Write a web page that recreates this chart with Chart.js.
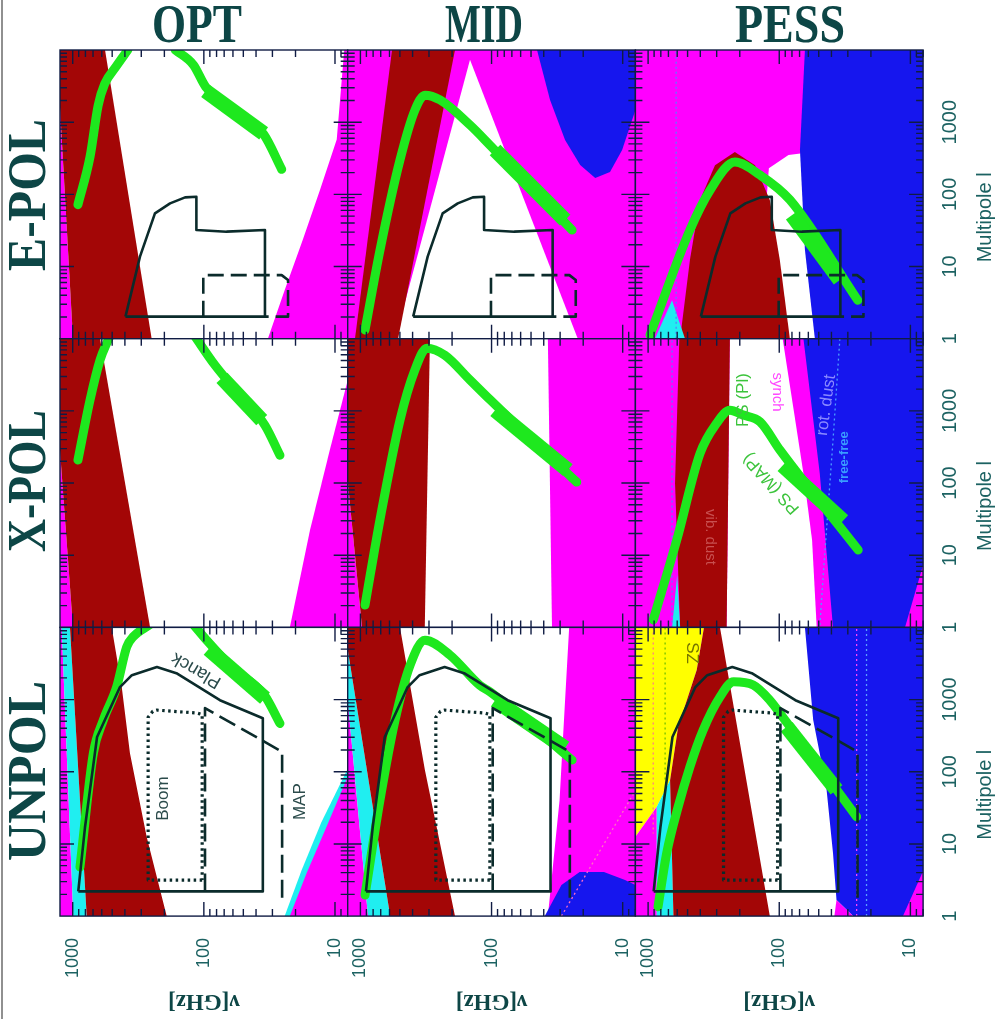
<!DOCTYPE html>
<html><head><meta charset="utf-8">
<script src="https://cdn.jsdelivr.net/npm/chart.js@4.4.1/dist/chart.umd.min.js"></script>
<style>
html,body{margin:0;padding:0;background:#fff;}
#wrap{position:relative;width:997px;height:1019px;overflow:hidden;background:#fff;}
#wrap canvas{position:absolute;left:0;top:0;}
#frame{position:absolute;left:1px;top:0;width:2px;height:1019px;background:#909090;}
</style></head><body><div id="wrap"><div id="frame"></div></div>
<script>
// ---------- axes ----------
const NU_MIN = 8, NU_MAX = 1250, ELL_MIN = 1, ELL_MAX = 10000;
const columnTitles = ['OPT', 'MID', 'PESS'];
const rowTitles = ['E-POL', 'X-POL', 'UNPOL'];
const nuTickLabels = [1000, 100, 10];
const ellTickLabels = [1, 10, 100, 1000];

// ---------- experiments  [nu GHz, ell] ----------
const planckE = [[396,2.02],[307,13.7],[236,54.6],[181,75],[139,90.9],[114,92.7],[114,32],[67.2,30.4],[34.2,32],[34.2,2.02],[396,2.02]];
const mapE = [[101,2.02],[101,7.6],[25.5,7.6],[22.8,6.5],[22.8,2.02],[34.2,2.02]];
const planckU = [[907,2.2],[806,17],[652,303],[436,1490],[354,2180],[228,2830],[162,2320],[75.4,980],[35.5,550],[35.5,2.2],[907,2.2]];
const mapU = [[98,2.2],[98,763],[25.3,189],[25.3,1.8]];
const boomU = [[103,3.16],[266,3.16],[266,570],[245,690],[228,715],[113,650],[103,620],[103,3.16]];

// ---------- OPT E-POL ----------
const optE_left = [[1250,1630],[995,1],[1250,1]];
const optE_dust = [[1250,10000],[567,10000],[250,1],[995,1],[1250,1630]];
const optE_synch = [[8.5,10000],[9.7,575],[13,116],[17.6,23.5],[24.1,4.8],[32.5,1],[8,1],[8,10000]];
const optE_psA = [[912,72],[738,330],[640,1700],[570,3400],[470,5800],[380,10000]];
const optE_psB = [[165,10000],[120,6200],[97,3100],[60,1500],[35,680],[25.5,222]];
const optE_psMap = [[97,2700],[35,700]];
// ---------- MID E-POL ----------
const midE_white = [[543,1],[22,1],[146,7300]];
const midE_dust = [[574,10000],[190,10000],[516,1],[1100,1]];
const midE_blue = [[45,10000],[35.8,2030],[27.5,565],[21.1,255],[16.2,168],[12.5,204],[10.1,411],[8,1470],[7,10000]];
const midE_ps = [[922,1.32],[709,16.9],[499,300],[384,1470],[322,2370],[247,2030],[146,912],[103,482],[24.3,32]];
const midE_psMap = [[94,411],[27.5,44]];
// ---------- PESS E-POL ----------
const pessE_white = [[150,1],[120,230],[85,350],[60,380],[50,1]];
const pessE_dust = [[570,1],[480,12.3],[402,83.6],[309,254],[218,385],[153,254],[118,83.6],[99,12.3],[83,1]];
const pessE_blue = [[63.7,10000],[69.5,410],[63.7,16.9],[53.5,1],[7,1],[7,10000]];
const pessE_cyan = [[887,1],[657,3.4],[523,1]];
const pessE_dot = [[611,1],[611,10000]];
const pessE_ps = [[967,1.13],[480,32],[337,114],[218,280],[140,185],[83,84],[25.2,3.4]];
const pessE_psMap = [[80,51.5],[34.5,6.5]];
// ---------- OPT X-POL ----------
const optX_left = [[1250,282],[995,1],[1250,1]];
const optX_dust = [[1250,10000],[619,10000],[257,1],[995,1],[1250,282]];
const optX_synch = [[8,2650],[10.95,287],[15.5,22.3],[22.1,1],[7,1],[7,2650]];
const optX_psA = [[912,208],[738,1410],[619,5050],[537,9580],[520,11000]];
const optX_psB = [[118,11000],[82.3,4300],[53.1,1650],[34.2,632],[26.3,243]];
const optX_psMap = [[72.8,2860],[36.2,745]];
// ---------- MID X-POL ----------
const midX_left = [[1250,109],[972,1],[1250,1]];
const midX_dust = [[1250,10000],[295,10000],[323,1],[972,1],[1250,109]];
const midX_synch = [[37.2,10000],[34.6,1],[7,1],[7,10000]];
const midX_ps = [[922,2.04],[710,30.7],[499,745],[384,3700],[311,7400],[227,5900],[146,2680],[102,1410],[22.4,103]];
const midX_psMap = [[94,1020],[26.2,151]];
// ---------- PESS X-POL ----------
const pessX_dust = [[578,10000],[238,10000],[252,1],[570,1],[623,99]];
const pessX_white = [[238,10000],[94.2,10000],[78.3,1140],[65.4,136],[56.2,16.2],[51.8,1],[252,1]];
const pessX_blue = [[65.4,10000],[49.1,136],[38.9,1],[7,1],[7,10000]];
const pessX_corner = [[8,7.3],[11,1],[7,1]];
const pessX_cyan = [[657,1],[600,5.3],[570,1]];
const pessX_dotA = [[657,1],[657,10000]];
const pessX_dotB = [[34.5,10000],[38.9,393],[46.1,5.6],[49.1,1]];
const pessX_ps = [[914,1.27],[605,16.2],[402,257],[301,670],[238,1020],[188,875],[140,705],[98.8,287],[25,11.8]];
const pessX_psMap = [[94.2,175],[32.6,30]];
// ---------- OPT UNPOL ----------
const optU_left = [[1250,10000],[1213,10000],[990,1],[1250,1]];
const optU_cyan = [[1213,10000],[1049,10000],[782,1],[990,1]];
const optU_dust = [[1049,10000],[504,10000],[423,1500],[366,180],[273,12.6],[192,1],[782,1]];
const optU_cyan2 = [[8,110],[12.7,20],[18,4.3],[24.2,1],[7,1]];
const optU_synch = [[8,85],[11.6,17.3],[16.5,3.9],[22.1,1],[7,1]];
const optU_psA = [[880,4.8],[696,180],[584,520],[462,1500],[387,5400],[346,7400],[257,11000]];
const optU_psB = [[118,10500],[95.3,6640],[60,2700],[34.5,1150],[26.3,467]];
const optU_psMap = [[92,5000],[34.2,1050]];
// ---------- MID UNPOL ----------
const midU_left = [[1250,980],[875,1],[1250,1]];
const midU_cyan = [[1250,5000],[593,1],[875,1],[1250,980]];
const midU_dust = [[1250,10000],[499,10000],[322,105],[190,1],[593,1],[1250,5000]];
const midU_synch = [[25.6,10000],[27.5,980],[30.3,40.4],[37.2,1],[7,1],[7,10000]];
const midU_blue = [[39.3,1],[29.3,2.7],[21.3,4.08],[13.9,4.08],[9.6,3.16],[8,2.7],[7,1]];
const midU_dot = [[29.3,1],[8,55]];
const midU_ps = [[922,1.96],[709,40.5],[544,520],[418,2990],[322,6650],[208,4140],[123,1580],[102,1270],[24.3,145]];
const midU_psMap = [[94,980],[27.5,213]];
// ---------- PESS UNPOL ----------
const pessU_yellow = [[1250,10000],[375,10000],[426,2560],[590,420],[680,76.5],[859,32.7],[1250,12.6]];
const pessU_magL = [[1250,12.6],[859,32.7],[859,1],[1250,1]];
const pessU_cyan = [[680,76.5],[859,32.7],[859,1],[641,1]];
const pessU_dust = [[375,10000],[283,10000],[118,1],[641,1],[680,76.5],[590,420],[426,2560]];
const pessU_blue = [[63.7,10000],[55.1,520],[43.8,62],[38.9,7.4],[36.6,1.67],[27.3,1],[7,1],[7,10000]];
const pessU_magB = [[36.6,1.67],[27.3,1],[38,1]];
const pessU_corner = [[8,4.2],[11.4,1],[7,1]];
const pessU_dotPink = [[914,10000],[914,14]];
const pessU_dotYel = [[742,10000],[742,76]];
const pessU_dotMag = [[25.7,1],[25.7,10000]];
const pessU_dotBlu = [[21.6,1],[21.6,10000]];
const pessU_ps = [[840,1.35],[722,7.4],[590,32.7],[480,117],[381,376],[283,1090],[223,1760],[158,1590],[118,980],[94.2,575],[25.7,23.8]];
const pessU_psMap = [[87.8,420],[36.6,56]];

// ---------- styles ----------
const MAG = '#ff00ff', RED = '#a30606', BLUE = '#1616ee', CYAN = '#20eef0', YEL = '#ffff00', GRN = '#1ee81e', BLK = '#0b2b2b', WHITE = '#ffffff';
const TXT = '#1c6262', TITLE = '#0d4646', TICK = '#101c44';
const GRID = {left: 60, top: 50, colW: 287.7, rowH: 288.7};
const colTitleX = [197, 484, 790];
const rowTitleY = [195, 481, 771];

const psLine = d => ({pts: d, color: GRN, width: 9, cap: 'round', smooth: true});
const psBlock = d => ({pts: d, color: GRN, width: 15, cap: 'butt'});
const dotLine = (d, c) => ({pts: d, color: c, width: 1.3, dash: [2, 3]});
const expE = [{pts: planckE, color: BLK, width: 2.6}, {pts: mapE, color: BLK, width: 2.6, dash: [16, 7]}];
const expU = [{pts: planckU, color: BLK, width: 2.6}, {pts: mapU, color: BLK, width: 2.6, dash: [18, 7]}, {pts: boomU, color: BLK, width: 3.2, dash: [2.5, 3.5]}];
const lab = (t, at, rot, color, font) => ({t, at, rot, color, font});
const SF = '"Liberation Sans", Arial, sans-serif';

const panels = [
 {col:0,row:0,bg:WHITE, fills:[[optE_left,MAG],[optE_dust,RED],[optE_synch,MAG]],
  lines:[psLine(optE_psA), psLine(optE_psB), psBlock(optE_psMap), ...expE], labels:[]},
 {col:1,row:0,bg:MAG, fills:[[midE_white,WHITE],[midE_dust,RED],[midE_blue,BLUE]],
  lines:[psLine(midE_ps), psBlock(midE_psMap), ...expE], labels:[]},
 {col:2,row:0,bg:MAG, fills:[[pessE_white,WHITE],[pessE_dust,RED],[pessE_blue,BLUE],[pessE_cyan,CYAN]],
  lines:[dotLine(pessE_dot,'#5a7cff'), psLine(pessE_ps), psBlock(pessE_psMap), ...expE], labels:[]},
 {col:0,row:1,bg:WHITE, fills:[[optX_left,MAG],[optX_dust,RED],[optX_synch,MAG]],
  lines:[psLine(optX_psA), psLine(optX_psB), psBlock(optX_psMap)], labels:[]},
 {col:1,row:1,bg:WHITE, fills:[[midX_left,MAG],[midX_dust,RED],[midX_synch,MAG]],
  lines:[psLine(midX_ps), psBlock(midX_psMap)], labels:[]},
 {col:2,row:1,bg:MAG, fills:[[pessX_white,WHITE],[pessX_dust,RED],[pessX_blue,BLUE],[pessX_corner,MAG],[pessX_cyan,CYAN]],
  lines:[dotLine(pessX_dotA,'#5a7cff'), dotLine(pessX_dotB,'#4aa0ff'), psLine(pessX_ps), psBlock(pessX_psMap)],
  labels:[lab('vib. dust',[337,17.9],90,'#c85050','15px '+SF), lab('PS (Pl)',[189,1410],-90,'#3cc43c','17px '+SF),
          lab('synch',[104.6,1820],90,'#ff48ff','15px '+SF), lab('PS (MAP)',[115,99],-132,'#3cc43c','17px '+SF),
          lab('rot. dust',[43.8,1200],-82,'#8a8aff','17px '+SF), lab('free-free',[31.6,228],-90,'#3a9cff','bold 13px '+SF)]},
 {col:0,row:2,bg:WHITE, fills:[[optU_left,MAG],[optU_cyan,CYAN],[optU_dust,RED],[optU_cyan2,CYAN],[optU_synch,MAG]],
  lines:[psLine(optU_psA), psLine(optU_psB), psBlock(optU_psMap), ...expU],
  labels:[lab('Planck',[114,2560],-150,'#2b4b4b','18px '+SF), lab('Boom',[203,42.5],-90,'#2b4b4b','17px '+SF), lab('MAP',[18.5,38.5],-90,'#2b4b4b','17px '+SF)]},
 {col:1,row:2,bg:WHITE, fills:[[midU_left,MAG],[midU_cyan,CYAN],[midU_dust,RED],[midU_synch,MAG],[midU_blue,BLUE]],
  lines:[dotLine(midU_dot,'#ff70c0'), psLine(midU_ps), psBlock(midU_psMap), ...expU], labels:[]},
 {col:2,row:2,bg:WHITE, fills:[[pessU_yellow,YEL],[pessU_magL,MAG],[pessU_cyan,CYAN],[pessU_dust,RED],[pessU_blue,BLUE],[pessU_magB,MAG],[pessU_corner,MAG]],
  lines:[dotLine(pessU_dotPink,'#ff8080'), dotLine(pessU_dotYel,'#70c000'), dotLine(pessU_dotMag,'#ff40ff'), dotLine(pessU_dotBlu,'#5aa0ff'),
         psLine(pessU_ps), psBlock(pessU_psMap), ...expU],
  labels:[lab('SZ',[465,4400],90,'#767600','17px '+SF)]}
];

function rotText(ctx, txt, x, y, deg, font, color, align, baseline, fitW) {
  ctx.save();
  ctx.translate(x, y);
  ctx.rotate(deg * Math.PI / 180);
  ctx.font = font; ctx.fillStyle = color;
  ctx.textAlign = align || 'center'; ctx.textBaseline = baseline || 'middle';
  if (fitW) { const w = ctx.measureText(txt).width; ctx.scale(fitW / w, 1); }
  ctx.fillText(txt, 0, 0);
  ctx.restore();
}

function makePlugin(p) {
  return {
    id: 'panel' + p.col + p.row,
    beforeDatasetsDraw(chart) {
      const {ctx, chartArea: a} = chart;
      ctx.save(); ctx.fillStyle = p.bg; ctx.fillRect(a.left, a.top, a.right - a.left, a.bottom - a.top); ctx.restore();
    },
    afterDraw(chart) {
      const {ctx, chartArea: a, scales: {x, y}} = chart;
      p.labels.forEach(l => rotText(ctx, l.t, x.getPixelForValue(l.at[0]), y.getPixelForValue(l.at[1]), l.rot, l.font, l.color));
      ctx.save();
      ctx.beginPath();
      for (let e = 0; e <= 4; e++) for (let m = 1; m <= 9; m++) {
        const v = m * Math.pow(10, e);
        const len = m === 1 ? 14 : 7;
        if (v >= NU_MIN && v <= NU_MAX) {
          const px = x.getPixelForValue(v);
          ctx.moveTo(px, a.bottom); ctx.lineTo(px, a.bottom - len);
          ctx.moveTo(px, a.top); ctx.lineTo(px, a.top + len);
        }
        if (v > ELL_MIN && v < ELL_MAX) {
          const py = y.getPixelForValue(v);
          ctx.moveTo(a.left, py); ctx.lineTo(a.left + len, py);
          ctx.moveTo(a.right, py); ctx.lineTo(a.right - len, py);
        }
      }
      ctx.strokeStyle = TICK; ctx.lineWidth = 1.4; ctx.stroke();
      ctx.strokeRect(a.left, a.top, a.right - a.left, a.bottom - a.top);
      ctx.restore();
      if (p.row === 2) {
        nuTickLabels.forEach(v => rotText(ctx, String(v), x.getPixelForValue(v), 938, -90, '18px ' + SF, TXT, 'right', 'middle'));
        rotText(ctx, 'ν[GHz]', (a.left + a.right) / 2, 1001, 180, 'bold 23px "Liberation Serif", serif', TITLE);
      }
      if (p.col === 2) {
        ellTickLabels.forEach(v => rotText(ctx, String(v), 950, y.getPixelForValue(v), -90, '20px ' + SF, TXT));
        rotText(ctx, 'Multipole l', 985, (a.top + a.bottom) / 2 + 23, -90, '20px ' + SF, TXT);
      }
      if (p.row === 0) {
        const w = [90, 78, 110][p.col];
        rotText(ctx, columnTitles[p.col], colTitleX[p.col], 28, 0, 'bold 54px "Liberation Serif", serif', TITLE, 'center', 'middle', w);
      }
      if (p.col === 0) {
        const w = [152, 142, 180][p.row];
        rotText(ctx, rowTitles[p.row], 31, rowTitleY[p.row], -90, 'bold 54px "Liberation Serif", serif', TITLE, 'center', 'middle', w);
      }
    }
  };
}

const wrap = document.getElementById('wrap');
panels.forEach(p => {
  const c = document.createElement('canvas');
  c.width = 997; c.height = 1019;
  c.style.width = '997px'; c.style.height = '1019px';
  wrap.appendChild(c);
  const L = GRID.left + p.col * GRID.colW, T = GRID.top + p.row * GRID.rowH;
  const R = L + GRID.colW, B = T + GRID.rowH;
  const layers = [...p.fills.map(f => ({pts: f[0], color: f[1], fillShape: true})), ...p.lines];
  const datasets = layers.map((ly, k) => {
    const ds = {data: ly.pts.map(q => ({x: q[0], y: q[1]})), showLine: true, pointRadius: 0, pointHoverRadius: 0, clip: 0, order: layers.length - k, tension: 0};
    if (ly.fillShape) Object.assign(ds, {fill: 'shape', backgroundColor: ly.color, borderWidth: 0, borderColor: 'rgba(0,0,0,0)'});
    else Object.assign(ds, {fill: false, borderColor: ly.color, borderWidth: ly.width, borderDash: ly.dash || [], borderCapStyle: ly.cap || 'butt', borderJoinStyle: 'round'});
    if (ly.smooth) ds.cubicInterpolationMode = 'monotone';
    return ds;
  });
  new Chart(c, {
    type: 'scatter',
    data: {datasets},
    options: {
      responsive: false, animation: false, events: [], devicePixelRatio: 1,
      layout: {padding: {left: L, top: T, right: 997 - R, bottom: 1019 - B}},
      plugins: {legend: {display: false}, tooltip: {enabled: false}},
      scales: {
        x: {type: 'logarithmic', min: NU_MIN, max: NU_MAX, reverse: true, display: false},
        y: {type: 'logarithmic', min: ELL_MIN, max: ELL_MAX, display: false}
      }
    },
    plugins: [makePlugin(p)]
  });
});
</script></body></html>
